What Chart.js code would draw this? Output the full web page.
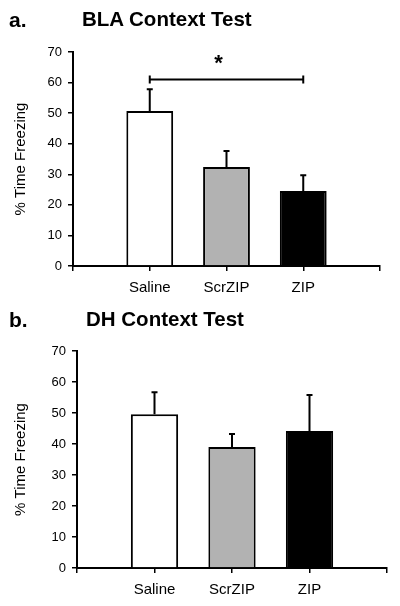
<!DOCTYPE html>
<html>
<head>
<meta charset="utf-8">
<script src="https://cdn.jsdelivr.net/npm/chart.js@4.4.1/dist/chart.umd.min.js"></script>
<style>
  body { margin: 0; background: #fff; }
  #wrap { position: relative; width: 400px; height: 606px; font-family: "Liberation Sans", Arial, sans-serif; }
  canvas { position: absolute; left: 0; }
  .lbl { position: absolute; font-weight: bold; color: #000; white-space: nowrap; line-height: 1; z-index: 2; }
</style>
</head>
<body>
<div id="wrap">
  <canvas id="chartA" width="400" height="300" style="top:0"></canvas>
  <canvas id="chartB" width="400" height="306" style="top:300px"></canvas>
  <div class="lbl" style="left:9px;top:9px;font-size:21px">a.</div>
  <div class="lbl" style="left:82px;top:9px;font-size:20.5px">BLA Context Test</div>
  <div class="lbl" style="left:9px;top:309px;font-size:21px">b.</div>
  <div class="lbl" style="left:86px;top:309px;font-size:20.5px">DH Context Test</div>
</div>
<script>
// groups (empty slots at both ends give the space left and right of the bars)
const groups = ['', 'Saline', 'ScrZIP', 'ZIP', ''];
const barColors = ['#ffffff', '#ffffff', '#b2b2b2', '#000000', '#ffffff'];

// a. BLA context test
const blaMeans = [null, 50.7, 32.4, 24.5, null];
const blaSem = [null, 7.1, 5.2, 5.2, null];
// significance bracket between Saline and ZIP
const blaSig = { from: 1, to: 3, level: 61, text: '*' };

// b. DH context test
const dhMeans = [null, 49.6, 39.0, 44.2, null];
const dhSem = [null, 7.1, 4.2, 11.6, null];

const yMax = 70;
const yStep = 10;

const font = '"Liberation Sans", Arial, sans-serif';

// draws the upper half of the error bars and the significance bracket
const errorBars = {
  id: 'errorBars',
  afterDatasetsDraw(chart, args, opts) {
    const ctx = chart.ctx;
    const x = chart.scales.x, y = chart.scales.y;
    const means = chart.data.datasets[0].data;
    ctx.save();
    ctx.strokeStyle = '#000';
    ctx.lineWidth = 2;
    means.forEach((m, i) => {
      if (m == null) return;
      const px = x.getPixelForValue(i);
      const top = y.getPixelForValue(m + opts.sem[i]);
      ctx.beginPath();
      ctx.moveTo(px, y.getPixelForValue(m));
      ctx.lineTo(px, top);
      ctx.moveTo(px - 3, top);
      ctx.lineTo(px + 3, top);
      ctx.stroke();
    });
    if (opts.sig) {
      const s = opts.sig;
      const x1 = x.getPixelForValue(s.from), x2 = x.getPixelForValue(s.to);
      const py = y.getPixelForValue(s.level);
      ctx.beginPath();
      ctx.moveTo(x1, py); ctx.lineTo(x2, py);
      ctx.moveTo(x1, py - 4); ctx.lineTo(x1, py + 4);
      ctx.moveTo(x2, py - 4); ctx.lineTo(x2, py + 4);
      ctx.stroke();
      ctx.fillStyle = '#000';
      ctx.font = 'bold 22px ' + font;
      ctx.textAlign = 'center';
      ctx.textBaseline = 'middle';
      ctx.fillText(s.text, (x1 + x2) / 2 - 8, py - 16);
    }
    ctx.restore();
  }
};

function makeChart(id, means, sem, sig, yWidth, xHeight, padTop, padRight) {
  return new Chart(document.getElementById(id), {
    type: 'bar',
    data: {
      labels: groups,
      datasets: [{
        data: means,
        backgroundColor: barColors,
        borderColor: '#000',
        borderWidth: 2,
        barPercentage: 0.61,
        categoryPercentage: 1
      }]
    },
    options: {
      responsive: false,
      animation: false,
      layout: { padding: { top: padTop, right: padRight, left: 0, bottom: 0 } },
      plugins: {
        legend: { display: false },
        tooltip: { enabled: false },
        errorBars: { sem: sem, sig: sig }
      },
      scales: {
        x: {
          offset: false,
          afterFit: s => { s.height = xHeight; },
          grid: { offset: false, drawOnChartArea: false, drawTicks: true, tickLength: 5, color: '#000', lineWidth: 1.5 },
          border: { color: '#000', width: 2 },
          ticks: { color: '#000', font: { family: font, size: 15 }, padding: 8, autoSkip: false, maxRotation: 0 }
        },
        y: {
          min: 0,
          max: yMax,
          afterFit: s => { s.width = yWidth; },
          grid: { drawOnChartArea: false, drawTicks: true, tickLength: 5, color: '#000', lineWidth: 1.5 },
          border: { color: '#000', width: 2 },
          ticks: { stepSize: yStep, color: '#000', font: { family: font, size: 13 }, padding: 6 },
          title: { display: true, text: '% Time Freezing', color: '#000', font: { family: font, size: 15 }, padding: { top: 12 } }
        }
      }
    },
    plugins: [errorBars]
  });
}

makeChart('chartA', blaMeans, blaSem, blaSig, 73, 34, 52, 20);
makeChart('chartB', dhMeans, dhSem, null, 77, 38, 51, 13);
</script>
</body>
</html>
